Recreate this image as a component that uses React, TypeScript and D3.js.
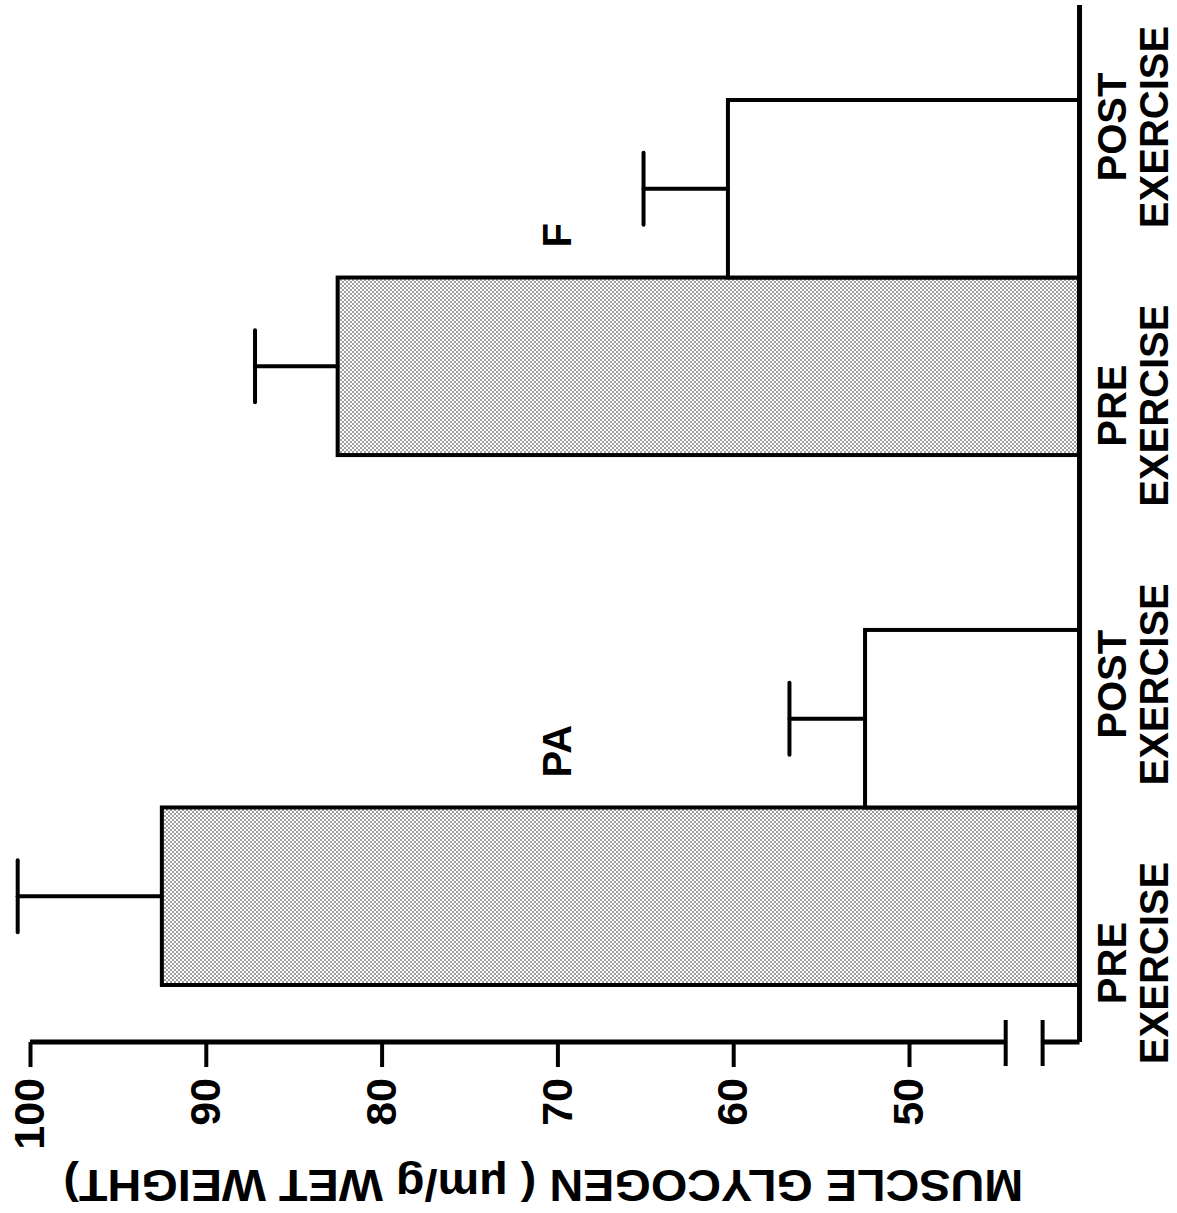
import React, { useEffect, useRef } from "react";
import * as d3 from "d3";

const groups = ["PA", "F"];
const phases = ["PRE", "POST"];
// PA pre, PA post, F pre, F post
const glycogen = [92.5, 52.5, 82.5, 60.3];
const glycogenSE = [8.2, 4.3, 4.7, 4.8];
const yTicks = [100, 90, 80, 70, 60, 50];
const phaseLabels: Record<string, string[]> = {
  PRE: ["PRE", "EXERCISE"],
  POST: ["POST", "EXERCISE"],
};
const yTitle = "MUSCLE GLYCOGEN  ( \u03bcm/g WET WEIGHT)";

const WIDTH = 1177;
const HEIGHT = 1213;
const FONT = "'Liberation Sans', Arial, Helvetica, sans-serif";
const AXIS_X = 171;
const FLOOR = 40.3; // value where the bars sit
const BREAK = [44.5, 42.4]; // axis break marks
const TITLE_AT = 70.8; // value at the middle of the axis title

export default function App() {
  const svgRef = useRef<SVGSVGElement | null>(null);

  useEffect(() => {
    const svg = d3.select(svgRef.current);
    svg.selectAll("*").remove();

    // stipple fill for the pre-exercise bars
    const pat = svg
      .append("defs")
      .append("pattern")
      .attr("id", "stipple")
      .attr("patternUnits", "userSpaceOnUse")
      .attr("width", 4)
      .attr("height", 4);
    pat.append("rect").attr("width", 4).attr("height", 4).attr("fill", "#fff");
    pat.append("circle").attr("cx", 1).attr("cy", 1).attr("r", 0.8).attr("fill", "#222");
    pat.append("circle").attr("cx", 3).attr("cy", 3).attr("r", 0.8).attr("fill", "#222");

    // the figure is drawn upright, then turned a quarter left like the scan
    const g = svg
      .append("g")
      .attr("transform", `translate(0,${HEIGHT}) rotate(-90)`)
      .style("font-family", FONT);

    const y = d3.scaleLinear().domain([50, 100]).range([909, 30]);
    const x0 = d3.scaleBand().domain(groups).range([228, 1113]).paddingInner(0.33);
    const x1 = d3.scaleBand().domain(phases).range([0, x0.bandwidth()]);

    const rows = d3.cross(groups, phases).map(([grp, ph], i) => ({
      key: grp + "-" + ph,
      grp,
      ph,
      v: glycogen[i],
      se: glycogenSE[i],
    }));
    // the labels under the axis are spread evenly, not centred on the bars
    const xLabel = d3
      .scalePoint()
      .domain(rows.map((d) => d.key))
      .range([250, 1086]);

    // bars
    g.selectAll("rect.bar")
      .data(rows)
      .join("rect")
      .attr("class", "bar")
      .attr("x", (d) => x0(d.grp)! + x1(d.ph)!)
      .attr("width", x1.bandwidth())
      .attr("y", (d) => y(d.v))
      .attr("height", (d) => y(FLOOR) - y(d.v))
      .attr("fill", (d) => (d.ph === "PRE" ? "url(#stipple)" : "#fff"))
      .attr("stroke", "#000")
      .attr("stroke-width", 4);

    // error bars
    const cx = (d: { grp: string; ph: string }) => x0(d.grp)! + x1(d.ph)! + x1.bandwidth() / 2;
    const eb = g
      .selectAll("g.err")
      .data(rows)
      .join("g")
      .attr("class", "err")
      .attr("stroke", "#000")
      .attr("stroke-width", 4)
      .attr("stroke-linecap", "round");
    eb.append("line")
      .attr("x1", cx)
      .attr("x2", cx)
      .attr("y1", (d) => y(d.v))
      .attr("y2", (d) => y(d.v + d.se));
    eb.append("line")
      .attr("x1", (d) => cx(d) - 36)
      .attr("x2", (d) => cx(d) + 36)
      .attr("y1", (d) => y(d.v + d.se))
      .attr("y2", (d) => y(d.v + d.se));

    // value axis
    const ax = g
      .append("g")
      .attr("transform", `translate(${AXIS_X},0)`)
      .call(d3.axisLeft(y).tickValues(yTicks).tickSize(25).tickPadding(11).tickSizeOuter(0))
      .call((a) => a.select(".domain").remove());
    ax.selectAll("line").attr("stroke", "#000").attr("stroke-width", 4);
    ax.selectAll("text")
      .attr("fill", "#000")
      .style("font-family", FONT)
      .style("font-size", "43px")
      .style("font-weight", "bold");

    const lines = g.append("g").attr("stroke", "#000").attr("stroke-width", 5).attr("fill", "none");
    lines.append("line").attr("x1", AXIS_X).attr("x2", AXIS_X).attr("y1", y(100)).attr("y2", y(BREAK[0]));
    lines.append("line").attr("x1", AXIS_X).attr("x2", AXIS_X).attr("y1", y(BREAK[1])).attr("y2", y(FLOOR));
    BREAK.forEach((b) => {
      lines
        .append("line")
        .attr("stroke-width", 4)
        .attr("x1", AXIS_X - 24)
        .attr("x2", AXIS_X + 22)
        .attr("y1", y(b))
        .attr("y2", y(b));
    });
    // category baseline
    lines.append("line").attr("x1", AXIS_X).attr("x2", 1208).attr("y1", y(FLOOR)).attr("y2", y(FLOOR));

    // category labels
    const cl = g
      .selectAll("text.cat")
      .data(rows)
      .join("text")
      .attr("class", "cat")
      .attr("text-anchor", "middle")
      .style("font-size", "40px")
      .style("font-weight", "bold");
    cl.append("tspan")
      .attr("x", (d) => xLabel(d.key)!)
      .attr("y", y(FLOOR) + 46)
      .text((d) => phaseLabels[d.ph][0]);
    cl.append("tspan")
      .attr("x", (d) => xLabel(d.key)!)
      .attr("y", y(FLOOR) + 88)
      .text((d) => phaseLabels[d.ph][1]);

    // group labels
    g.selectAll("text.grp")
      .data(groups)
      .join("text")
      .attr("class", "grp")
      .attr("x", (d) => x0(d)! + x0.bandwidth() / 2 + 30)
      .attr("y", y(70))
      .attr("dy", "0.35em")
      .style("font-size", "40px")
      .style("font-weight", "bold")
      .text((d) => d);

    // axis title
    g.append("text")
      .attr("transform", `translate(43,${y(TITLE_AT)}) rotate(-90)`)
      .attr("text-anchor", "middle")
      .attr("textLength", 960)
      .attr("lengthAdjust", "spacingAndGlyphs")
      .style("font-size", "44px")
      .style("font-weight", "bold")
      .text(yTitle);
  }, []);

  return (
    <svg
      ref={svgRef}
      width={WIDTH}
      height={HEIGHT}
      style={{ position: "absolute", left: 0, top: 0, background: "#fff" }}
    />
  );
}
